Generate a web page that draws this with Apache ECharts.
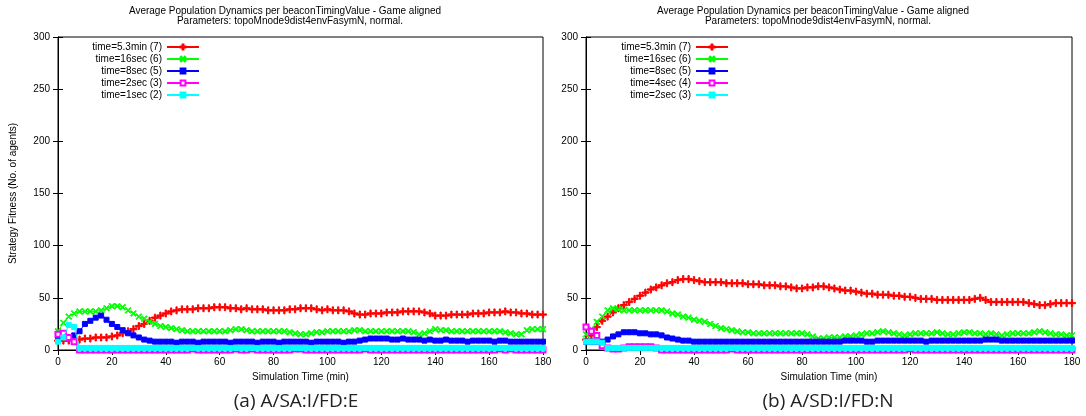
<!DOCTYPE html>
<html>
<head>
<meta charset="utf-8">
<script src="https://cdn.jsdelivr.net/npm/echarts@6/dist/echarts.min.js"></script>
<style>
	html, body { margin: 0; padding: 0; background: #fff; }
	#chart { width: 1086px; height: 416px; }
</style>
</head>
<body>
<div id="chart"></div>
<script>
// sample times (min), one reading every 2 minutes
var minutes = [];
for (var t = 0; t <= 180; t += 2) {
	minutes.push(t);
}

// (a) A/SA:I/FD:E
var namesA = ["time=5.3min (7)", "time=16sec (6)", "time=8sec (5)", "time=2sec (3)", "time=1sec (2)"];
var redA = [
	9, 9, 9, 10, 10, 11, 11, 12, 12, 12,
	13, 14, 16, 18, 20, 23, 25, 28, 31, 33,
	35, 37, 38, 39, 39, 39, 40, 40, 40, 41,
	41, 41, 40, 40, 39, 40, 39, 39, 39, 38,
	38, 38, 38, 39, 39, 40, 40, 40, 39, 38,
	39, 38, 38, 38, 37, 35, 34, 34, 35, 35,
	35, 36, 36, 36, 37, 37, 37, 37, 36, 35,
	33, 33, 33, 34, 34, 34, 34, 35, 35, 35,
	36, 36, 36, 37, 36, 36, 35, 35, 34, 34,
	34
];
var greenA = [
	18, 26, 32, 35, 37, 37, 37, 37, 38, 40,
	42, 42, 41, 38, 35, 32, 30, 27, 25, 23,
	22, 21, 20, 19, 18, 18, 18, 18, 18, 18,
	18, 18, 19, 20, 20, 19, 18, 18, 18, 18,
	18, 18, 18, 17, 16, 15, 15, 16, 17, 17,
	18, 18, 18, 18, 18, 19, 19, 18, 18, 18,
	18, 18, 18, 18, 18, 18, 17, 15, 16, 18,
	20, 19, 19, 18, 18, 18, 18, 18, 18, 18,
	18, 18, 18, 17, 16, 15, 15, 19, 20, 20,
	20
];
var blueA = [
	12, 13, 12, 14, 18, 25, 28, 31, 33, 29,
	25, 22, 19, 16, 14, 12, 10, 9, 8, 8,
	8, 8, 7, 8, 8, 8, 7, 8, 8, 8,
	8, 8, 7, 8, 8, 8, 8, 7, 8, 8,
	8, 7, 8, 8, 8, 8, 8, 7, 8, 8,
	8, 8, 8, 7, 8, 8, 9, 10, 11, 11,
	11, 11, 10, 10, 11, 10, 10, 10, 9, 10,
	9, 9, 10, 9, 9, 9, 8, 9, 9, 9,
	9, 8, 9, 9, 8, 8, 8, 8, 8, 8,
	8
];
var magentaA = [
	15, 16, 12, 8, 0, 0, 0, 0, 0, 0,
	0, 0, 0, 0, 0, 0, 0, 0, 0, 0,
	0, 0, 0, 0, 0, 1, 0, 0, 0, 0,
	0, 0, 0, 1, 0, 0, 1, 0, 0, 0,
	0, 0, 0, 0, 1, 1, 0, 0, 0, 0,
	0, 0, 0, 0, 0, 0, 0, 1, 0, 0,
	0, 0, 0, 0, 0, 0, 0, 0, 0, 0,
	0, 0, 0, 0, 0, 0, 0, 0, 0, 0,
	0, 0, 1, 0, 1, 0, 0, 0, 0, 0,
	0
];
var cyanA = [
	8, 12, 24, 22, 2, 2, 2, 2, 2, 2,
	2, 2, 2, 2, 2, 2, 2, 2, 2, 2,
	2, 2, 2, 2, 2, 2, 2, 2, 2, 2,
	2, 2, 2, 2, 2, 2, 2, 2, 2, 2,
	2, 2, 2, 2, 2, 2, 2, 2, 2, 2,
	2, 2, 2, 2, 2, 2, 2, 2, 2, 2,
	2, 2, 2, 2, 2, 2, 2, 2, 2, 2,
	2, 2, 2, 2, 2, 2, 2, 2, 2, 2,
	2, 2, 2, 2, 2, 2, 2, 2, 2, 2,
	2
];

// (b) A/SD:I/FD:N
var namesB = ["time=5.3min (7)", "time=16sec (6)", "time=8sec (5)", "time=4sec (4)", "time=2sec (3)"];
var redB = [
	10, 14, 22, 28, 32, 36, 40, 43, 46, 49,
	52, 55, 58, 60, 62, 64, 65, 67, 68, 68,
	67, 66, 65, 65, 65, 65, 64, 64, 64, 64,
	63, 63, 63, 62, 62, 62, 61, 61, 60, 59,
	59, 60, 60, 61, 61, 60, 59, 58, 57, 57,
	56, 55, 54, 54, 53, 53, 53, 52, 52, 51,
	51, 50, 49, 49, 49, 48, 48, 48, 48, 48,
	48, 48, 49, 50, 48, 46, 46, 46, 46, 46,
	46, 46, 45, 44, 43, 43, 44, 45, 45, 45,
	45
];
var greenB = [
	15, 20, 27, 32, 38, 40, 39, 38, 38, 38,
	38, 38, 38, 38, 38, 37, 35, 34, 32, 31,
	29, 28, 27, 25, 23, 21, 20, 19, 18, 17,
	17, 16, 16, 16, 16, 16, 16, 16, 16, 16,
	16, 15, 13, 11, 11, 12, 12, 12, 13, 13,
	14, 15, 16, 16, 17, 18, 17, 16, 15, 14,
	15, 16, 16, 16, 16, 17, 16, 15, 15, 16,
	17, 17, 16, 16, 15, 16, 15, 14, 15, 16,
	16, 16, 16, 17, 18, 17, 16, 15, 15, 14,
	14
];
var blueB = [
	8, 8, 8, 8, 10, 13, 15, 17, 17, 17,
	16, 16, 15, 15, 14, 12, 11, 10, 9, 9,
	8, 8, 8, 8, 8, 8, 8, 8, 8, 8,
	8, 8, 8, 8, 8, 8, 8, 8, 8, 8,
	8, 8, 8, 8, 8, 8, 8, 8, 9, 9,
	9, 9, 8, 8, 9, 9, 9, 9, 9, 9,
	9, 9, 9, 8, 9, 9, 9, 9, 9, 9,
	9, 9, 9, 9, 10, 10, 10, 9, 9, 9,
	9, 9, 9, 9, 9, 9, 9, 9, 9, 9,
	9
];
var magentaB = [
	22, 18, 14, 4, 2, 1, 1, 2, 3, 3,
	3, 3, 3, 2, 0, 0, 0, 0, 0, 0,
	0, 0, 0, 0, 0, 0, 0, 1, 0, 0,
	0, 0, 0, 0, 0, 0, 0, 0, 0, 0,
	0, 0, 0, 0, 0, 0, 0, 0, 0, 0,
	0, 0, 0, 0, 0, 0, 0, 0, 0, 0,
	1, 0, 0, 0, 0, 0, 0, 0, 0, 0,
	0, 0, 0, 0, 0, 0, 0, 0, 0, 0,
	0, 0, 0, 0, 0, 0, 0, 0, 0, 0,
	0
];
var cyanB = [
	8, 8, 8, 7, 2, 2, 2, 2, 2, 2,
	2, 2, 2, 2, 2, 2, 2, 2, 2, 2,
	2, 2, 2, 2, 2, 2, 2, 2, 2, 2,
	2, 2, 2, 2, 2, 2, 2, 2, 2, 2,
	2, 2, 2, 2, 2, 2, 2, 2, 2, 2,
	2, 2, 2, 2, 2, 2, 2, 2, 2, 2,
	2, 2, 2, 2, 2, 2, 2, 2, 2, 2,
	2, 2, 2, 2, 2, 2, 2, 2, 2, 2,
	2, 2, 2, 2, 2, 2, 2, 2, 2, 2,
	2
];

var titleLine1 = "Average Population Dynamics per beaconTimingValue - Game aligned";
var titleLine2 = "Parameters: topoMnode9dist4envFasymN, normal.";
var xName = "Simulation Time (min)";
var yName = "Strategy Fitness (No. of agents)";

// gnuplot-like point shapes: thin "+" and "x"
var plusPath = "path://M4.1,0H5.9V4.1H10V5.9H5.9V10H4.1V5.9H0V4.1H4.1Z";
var crossPath = "path://M0,1.2L1.2,0L5,3.8L8.8,0L10,1.2L6.2,5L10,8.8L8.8,10L5,6.2L1.2,10L0,8.8L3.8,5Z";

var looks = [
	{color: "#ff0000", symbol: plusPath, size: 7},
	{color: "#00ff00", symbol: crossPath, size: 6},
	{color: "#0000ff", symbol: "rect", size: 5},
	{color: "#ff00ff", symbol: "emptyRect", size: 5},
	{color: "#00ffff", symbol: "rect", size: 5}
];

var font = "Liberation Sans, Arial, sans-serif";

function pairs(values) {
	return values.map(function (v, i) {
		return [minutes[i], v];
	});
}

function makeSeries(prefix, names, lists, axisIndex) {
	return lists.map(function (values, i) {
		var look = looks[i];
		return {
			name: prefix + names[i],
			type: "line",
			xAxisIndex: axisIndex,
			yAxisIndex: axisIndex,
			data: pairs(values),
			symbol: look.symbol,
			symbolSize: look.size,
			showSymbol: true,
			lineStyle: {color: look.color, width: 1},
			itemStyle: {color: look.color, borderColor: look.color, borderWidth: 1},
			emphasis: {disabled: true},
			silent: true,
			z: 2 + i
		};
	});
}

function makeXAxis(gridIndex, top, showName) {
	return {
		type: "value",
		gridIndex: gridIndex,
		position: top ? "top" : "bottom",
		min: 0,
		max: 180,
		interval: 20,
		name: (!top && showName) ? xName : "",
		nameLocation: "middle",
		nameGap: 22,
		nameTextStyle: {color: "#000", fontSize: 10, fontFamily: font},
		axisLine: {show: !top, lineStyle: {color: "#000", width: 1}},
		axisTick: {show: true, inside: true, length: 5, lineStyle: {color: "#000"}},
		axisLabel: {show: !top, color: "#000", fontSize: 10, fontFamily: font, margin: 7},
		splitLine: {show: false}
	};
}

function makeYAxis(gridIndex, right, showName) {
	return {
		type: "value",
		gridIndex: gridIndex,
		position: right ? "right" : "left",
		min: 0,
		max: 300,
		interval: 50,
		name: (!right && showName) ? yName : "",
		nameLocation: "middle",
		nameGap: 40,
		nameTextStyle: {color: "#000", fontSize: 10, fontFamily: font},
		axisLine: {show: !right, lineStyle: {color: "#000", width: 1}},
		axisTick: {show: true, inside: true, length: 5, lineStyle: {color: "#000"}},
		axisLabel: {show: !right, color: "#000", fontSize: 10, fontFamily: font, margin: 8},
		splitLine: {show: false}
	};
}

function makeLegend(prefix, names, rightPos) {
	return {
		orient: "vertical",
		align: "right",
		right: rightPos,
		top: 42,
		padding: 0,
		itemGap: 2,
		itemWidth: 32,
		itemHeight: 6,
		data: names.map(function (n) { return prefix + n; }),
		formatter: function (name) {
			return name.substring(prefix.length);
		},
		textStyle: {color: "#000", fontSize: 10, fontFamily: font, lineHeight: 9},
		selectedMode: false
	};
}

function titleText(x, y, text) {
	return {
		type: "text",
		x: x,
		y: y,
		style: {
			text: text,
			fill: "#000",
			font: "10px " + font,
			align: "center",
			verticalAlign: "middle"
		}
	};
}

function captionText(x, text) {
	return {
		type: "text",
		x: x,
		y: 402,
		style: {
			text: text,
			fill: "#222",
			font: "19px Open Sans, DejaVu Sans, sans-serif",
			align: "center",
			verticalAlign: "middle"
		}
	};
}

var chart = echarts.init(document.getElementById("chart"));

var option = {
	animation: false,
	backgroundColor: "#fff",
	grid: [
		{left: 58, top: 37, width: 485, height: 313, show: true, borderColor: "#000", borderWidth: 1, backgroundColor: "transparent"},
		{left: 586, top: 37, width: 486, height: 313, show: true, borderColor: "#000", borderWidth: 1, backgroundColor: "transparent"}
	],
	xAxis: [
		makeXAxis(0, false, true),
		makeXAxis(1, false, true),
		makeXAxis(0, true, false),
		makeXAxis(1, true, false)
	],
	yAxis: [
		makeYAxis(0, false, true),
		makeYAxis(1, false, false),
		makeYAxis(0, true, false),
		makeYAxis(1, true, false)
	],
	legend: [
		makeLegend("a:", namesA, 1086 - 200),
		makeLegend("b:", namesB, 1086 - 729)
	],
	graphic: [
		titleText(285, 11, titleLine1),
		titleText(290, 21, titleLine2),
		titleText(813, 11, titleLine1),
		titleText(818, 21, titleLine2),
		captionText(296, "(a) A/SA:I/FD:E"),
		captionText(828, "(b) A/SD:I/FD:N")
	],
	series: makeSeries("a:", namesA, [redA, greenA, blueA, magentaA, cyanA], 0)
		.concat(makeSeries("b:", namesB, [redB, greenB, blueB, magentaB, cyanB], 1))
};

chart.setOption(option);
</script>
</body>
</html>
